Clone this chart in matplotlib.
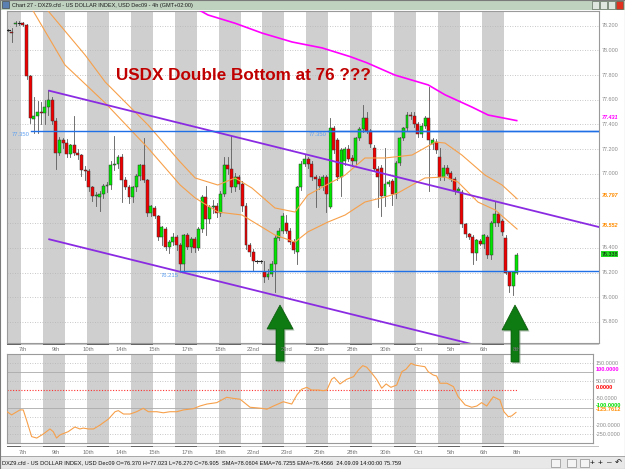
import numpy as np
import matplotlib
matplotlib.use("Agg")
import matplotlib.pyplot as plt
from matplotlib.patches import Rectangle, Polygon

# ---- 4h candles, bar index 0..139
opens = [78.165, 78.150, 78.210, 78.220, 78.220, 78.205, 77.790, 77.445, 77.470, 77.500,
         77.490, 77.540, 77.600, 77.430, 77.170, 77.270, 77.250, 77.160, 77.230, 77.170,
         77.150, 77.030, 77.020, 76.890, 76.820, 76.815, 76.840, 76.900, 76.910, 77.070,
         77.080, 77.140, 76.950, 76.890, 76.810, 76.890, 76.980, 77.070, 76.950, 76.680,
         76.720, 76.660, 76.490, 76.555, 76.410, 76.450, 76.490, 76.420, 76.270, 76.500,
         76.410, 76.470, 76.400, 76.550, 76.810, 76.630, 76.730, 76.740, 76.680, 76.840,
         77.070, 77.040, 76.890, 76.970, 76.920, 76.740, 76.420, 76.370, 76.290, 76.290,
         76.205, 76.165, 76.190, 76.270, 76.480, 76.540, 76.600, 76.540, 76.450, 76.370,
         76.890, 77.080, 77.120, 77.080, 76.970, 76.960, 76.900, 76.970, 76.730, 77.370,
         77.270, 76.970, 77.100, 77.200, 77.130, 77.100, 77.290, 77.360, 77.450, 77.345,
         77.210, 77.040, 77.050, 76.820, 76.920, 76.940, 76.840, 77.090, 77.290, 77.370,
         77.480, 77.470, 77.400, 77.325, 77.390, 77.450, 77.240, 77.260, 77.140, 76.970,
         77.050, 77.010, 76.955, 76.860, 76.850, 76.590, 76.510, 76.490, 76.360, 76.455,
         76.430, 76.490, 76.340, 76.600, 76.675, 76.620, 76.480, 76.200, 76.090, 76.200]
highs = [78.170, 78.180, 78.235, 78.235, 78.230, 78.215, 77.800, 77.620, 77.590, 77.580,
         77.600, 77.680, 77.620, 77.450, 77.300, 77.290, 77.280, 77.240, 77.470, 77.200,
         77.160, 77.060, 77.040, 76.900, 76.850, 76.860, 76.920, 76.930, 77.100, 77.310,
         77.150, 77.160, 76.970, 76.910, 76.900, 77.000, 77.080, 77.290, 76.960, 76.750,
         76.740, 76.670, 76.580, 76.570, 76.460, 76.520, 76.500, 76.440, 76.510, 76.520,
         76.490, 76.490, 76.570, 76.830, 76.900, 76.750, 76.790, 76.760, 76.860, 77.140,
         77.140, 77.310, 77.010, 76.990, 76.940, 76.760, 76.440, 76.390, 76.300, 76.300,
         76.290, 76.230, 76.290, 76.500, 76.560, 76.680, 76.670, 76.560, 76.470, 76.900,
         77.100, 77.160, 77.140, 77.100, 76.990, 76.980, 76.990, 76.990, 77.450, 77.390,
         77.290, 77.210, 77.220, 77.230, 77.150, 77.300, 77.380, 77.560, 77.500, 77.360,
         77.230, 77.060, 77.070, 77.210, 76.950, 76.960, 77.100, 77.300, 77.380, 77.500,
         77.500, 77.500, 77.420, 77.410, 77.470, 77.700, 77.290, 77.280, 77.210, 77.070,
         77.070, 77.020, 76.970, 76.890, 76.870, 76.600, 76.520, 76.500, 76.470, 76.470,
         76.510, 76.500, 76.620, 76.780, 76.690, 76.630, 76.500, 76.210, 76.210, 76.360]
lows = [78.160, 78.070, 78.195, 78.205, 78.195, 77.770, 77.410, 77.330, 77.330, 77.400,
        77.400, 77.480, 77.400, 77.040, 77.150, 77.210, 77.140, 77.140, 77.150, 77.120,
        76.980, 76.950, 76.860, 76.780, 76.740, 76.700, 76.800, 76.850, 76.880, 77.030,
        77.050, 76.770, 76.880, 76.760, 76.770, 76.860, 76.950, 76.930, 76.660, 76.660,
        76.640, 76.460, 76.420, 76.380, 76.360, 76.420, 76.380, 76.220, 76.210, 76.390,
        76.370, 76.370, 76.380, 76.530, 76.500, 76.600, 76.680, 76.650, 76.660, 76.820,
        77.000, 76.850, 76.860, 76.880, 76.700, 76.390, 76.330, 76.220, 76.280, 76.280,
        76.120, 76.150, 76.170, 76.045, 76.460, 76.520, 76.520, 76.430, 76.360, 76.270,
        76.870, 77.060, 77.050, 76.950, 76.730, 76.880, 76.870, 76.690, 76.720, 77.170,
        76.950, 76.820, 77.070, 77.100, 77.060, 77.080, 77.270, 77.340, 77.330, 77.220,
        77.020, 76.730, 76.660, 76.740, 76.900, 76.750, 76.800, 77.070, 77.270, 77.350,
        77.440, 77.380, 77.300, 77.300, 77.370, 76.860, 77.200, 77.170, 76.950, 76.950,
        76.990, 76.940, 76.840, 76.850, 76.570, 76.490, 76.470, 76.270, 76.300, 76.420,
        76.400, 76.320, 76.310, 76.580, 76.580, 76.500, 76.190, 76.040, 76.020, 76.190]
closes = [78.165, 78.140, 78.220, 78.220, 78.205, 77.790, 77.450, 77.470, 77.500, 77.490,
          77.540, 77.600, 77.430, 77.170, 77.270, 77.250, 77.160, 77.230, 77.170, 77.150,
          77.030, 77.020, 76.890, 76.820, 76.830, 76.840, 76.900, 76.910, 77.070, 77.080,
          77.140, 76.950, 76.890, 76.810, 76.890, 76.980, 77.070, 76.950, 76.680, 76.740,
          76.660, 76.490, 76.570, 76.410, 76.450, 76.490, 76.420, 76.270, 76.500, 76.410,
          76.470, 76.400, 76.550, 76.810, 76.630, 76.730, 76.740, 76.680, 76.840, 77.070,
          77.040, 76.890, 76.970, 76.920, 76.740, 76.420, 76.370, 76.290, 76.290, 76.295,
          76.165, 76.190, 76.270, 76.480, 76.540, 76.660, 76.540, 76.450, 76.380, 76.890,
          77.080, 77.120, 77.080, 76.970, 76.960, 76.900, 76.970, 76.840, 77.370, 77.190,
          76.970, 77.190, 77.200, 77.120, 77.100, 77.290, 77.360, 77.450, 77.345, 77.240,
          77.040, 76.970, 76.820, 76.920, 76.930, 76.840, 77.090, 77.290, 77.370, 77.480,
          77.465, 77.400, 77.325, 77.390, 77.450, 77.270, 77.270, 77.190, 76.970, 77.050,
          77.000, 76.955, 76.860, 76.875, 76.590, 76.510, 76.490, 76.360, 76.460, 76.435,
          76.500, 76.340, 76.600, 76.675, 76.600, 76.530, 76.200, 76.090, 76.200, 76.338]

# ---- indicator lines (bar index, value)
sma_bar = [52.0, 54.6, 62.0, 69.4, 77.6, 85.8, 93.4, 98.0, 105.7, 114.8, 119.4, 126.8, 131.2, 139.0]
sma_val = [78.33, 78.287, 78.22, 78.14, 78.068, 78.02, 77.95, 77.90, 77.80, 77.72, 77.64, 77.54, 77.476, 77.431]

ema1_bar = [10.9, 21.0, 26.5, 38.2, 47.0, 51.1, 57.3, 62.0, 66.6, 72.9, 78.4, 81.9, 88.5, 92.1,
            97.5, 103.0, 110.4, 116.7, 119.4, 124.0, 130.3, 135.0, 139.1]
ema1_val = [78.32, 77.963, 77.744, 77.396, 77.096, 76.966, 76.909, 76.966, 76.885, 76.723, 76.690,
            76.828, 76.934, 76.990, 77.128, 77.128, 77.152, 77.257, 77.249, 77.152, 76.990, 76.909, 76.797]
ema2_bar = [6.8, 15.5, 26.5, 38.2, 47.0, 51.1, 57.3, 63.9, 72.9, 78.4, 81.9, 87.4, 92.1, 97.5,
            103.0, 106.5, 110.4, 113.9, 119.4, 122.9, 128.4, 133.1, 139.1]
ema2_val = [78.32, 77.882, 77.574, 77.209, 76.909, 76.804, 76.690, 76.666, 76.504, 76.447, 76.529,
            76.609, 76.666, 76.771, 76.812, 76.844, 76.909, 76.966, 76.974, 76.934, 76.771, 76.707, 76.552]

cci_bar = [-0.3, 0.9, 3.2, 4.1, 5.0, 6.4, 7.8, 9.6, 11.4, 12.3, 13.2, 14.1, 16.4, 18.2, 19.6, 20.5,
           21.9, 23.3, 25.1, 27.4, 29.2, 30.1, 31.5, 33.3, 35.1, 36.9, 38.3, 40.6, 42.4, 44.2, 46.1,
           47.9, 50.6, 52.4, 54.3, 57.0, 59.7, 61.5, 63.4, 66.1, 69.3, 70.7, 72.5, 75.2, 77.5, 78.9,
           80.2, 81.6, 82.9, 84.8, 86.1, 87.1, 88.4, 89.1, 90.7, 92.5, 94.4, 95.7, 96.9, 98.0, 99.4,
           100.7, 102.1, 103.3, 104.6, 106.2, 107.6, 108.7, 110.1, 111.2, 112.6, 113.9, 114.8, 116.2,
           117.1, 118.0, 119.9, 121.7, 123.0, 124.9, 126.7, 128.1, 129.4, 130.8, 132.6, 134.4, 135.5,
           136.7, 137.6, 138.8]
cci_val = [-122, -140, -112, -112, -169, -262, -270, -247, -219, -234, -270, -253, -234, -208, -219,
           -214, -219, -219, -197, -163, -122, -116, -135, -135, -122, -103, -122, -122, -128, -122,
           -122, -112, -105, -90, -79, -71, -41, -47, -52, -97, -103, -108, -90, -66, -79, -28, 4, 15,
           0, 0, -4, 0, 60, 71, 34, 60, 75, 112, 137, 128, 94, 60, 10, 34, 15, 28, 103, 116, 150, 140,
           135, 131, 103, 84, 79, 38, 38, 19, -38, -84, -97, -90, -71, -90, -38, -56, -122, -150, -146,
           -126]
cci_last = -125.7612

# ---- trend lines / levels
channel_start = 11.2
channel_top0 = 77.673
channel_bot0 = 76.469
channel_slope = -0.00735
levels = [(77.350, 6.2, '77.350'), (77.350, 87.4, '77.350'), (76.215, 47.0, '76.215')]

date_pos = [4, 13, 22, 31, 40, 49, 58, 67, 76, 85, 94, 103, 112, 121, 130, 139]
date_txt = ['7th', '9th', '10th', '14th', '15th', '17th', '18th', '22nd', '23rd',
            '25th', '28th', '30th', 'Oct', '5th', '6th', '8th']

W, H = 625, 469
BAR0, STEP = 8.25, 3.658
PR0, PPX, PY0 = 78.2, 123.4, 25.7

def fx(px):
    return px / W

def fy(py):
    return 1 - py / H

def bar_at(px):
    return (px - BAR0) / STEP

def price_at(py):
    return PR0 - (py - PY0) / PPX

def cci_at(py):
    return (390 - py) * 5.62

plt.rcParams['font.family'] = ['Liberation Sans', 'DejaVu Sans']
fig = plt.figure(figsize=(W / 100, H / 100), dpi=100)
fig.patch.set_facecolor('white')

GRAY = '#cfcfcf'
n = len(closes)

def bands(ax):
    ax.axvspan(-3, 3.5, color=GRAY, lw=0, zorder=0)
    k = 9.5
    while k < n - 3:
        ax.axvspan(k, k + 6, color=GRAY, lw=0, zorder=0)
        k += 12

def frame(ax):
    for s in ax.spines.values():
        s.set_color('#9a9a9a')
        s.set_linewidth(0.8)
    ax.set_xticks([])
    ax.set_yticks([])

# ---------------- main price panel
ax = fig.add_axes([fx(7), fy(343), (599 - 7) / W, (343 - 11) / H])
ax.set_xlim(bar_at(7), bar_at(599))
ax.set_ylim(price_at(343), price_at(11))
frame(ax)
bands(ax)
for p in np.arange(75.8, 78.21, 0.2):
    ax.axhline(p, color='#b5b5b5', lw=0.6, ls=(0, (1, 2)), zorder=1)

for i in range(n):
    o, h, l, c = opens[i], highs[i], lows[i], closes[i]
    ax.plot([i, i], [l, h], color='#5a5a5a', lw=0.6, zorder=3)
    if abs(c - o) < 0.006:
        ax.plot([i - 0.45, i + 0.45], [c, c], color='#222222', lw=0.8, zorder=4)
    else:
        fc = '#00e600' if c > o else '#ee0000'
        ax.add_patch(Rectangle((i - 0.4, min(o, c)), 0.8, abs(c - o), facecolor=fc,
                               edgecolor='#333333', lw=0.35, zorder=4))

ax.plot(sma_bar, sma_val, color='#ff00ff', lw=1.2, zorder=5)
ax.plot(ema1_bar, ema1_val, color='#f7a04a', lw=0.8, zorder=5)
ax.plot(ema2_bar, ema2_val, color='#f7a04a', lw=0.8, zorder=5)

x_end = bar_at(599)
ax.plot([channel_start, x_end], [channel_top0, channel_top0 + channel_slope * (x_end - channel_start)],
        color='#8a2be2', lw=1.3, zorder=6)
ax.plot([channel_start, x_end], [channel_bot0, channel_bot0 + channel_slope * (x_end - channel_start)],
        color='#8a2be2', lw=1.3, zorder=6)
for lvl, start, txt in levels:
    ax.plot([start, x_end], [lvl, lvl], color='#1f6fe6', lw=1.0, zorder=6)
    ax.text(start - 0.3, lvl - 0.015, txt, color='#5fa0f0', fontsize=4.2, ha='right', va='top', zorder=7)

ax.text(bar_at(116), price_at(75), 'USDX Double Bottom at 76 ???', color='#c00000', fontsize=12.3,
        fontweight='bold', va='center', ha='left', zorder=8)

tr = ax.get_yaxis_transform()
for p in np.arange(75.8, 78.21, 0.2):
    if abs(p - 76.6) < 0.01 or abs(p - 76.8) < 0.01:
        continue
    ax.text(1.004, p, '%.3f' % p, transform=tr, fontsize=3.9, color='#8a8a8a', va='center', ha='left')
for p, col in [(77.431, '#ff00ff'), (76.797, '#ff8c00'), (76.552, '#ff8c00')]:
    ax.text(1.004, p + 0.025, '%.3f' % p, transform=tr, fontsize=4.0, color=col, va='center', ha='left',
            fontweight='bold', style='italic')
ax.text(1.004, closes[-1] + 0.01, '%.3f' % closes[-1], transform=tr, fontsize=3.9, color='#111111',
        va='center', ha='left', bbox=dict(facecolor='#22dd22', edgecolor='none', pad=0.4))

# ---------------- CCI panel
ax2 = fig.add_axes([fx(7), fy(443), (593 - 7) / W, (443 - 354) / H])
ax2.set_xlim(bar_at(7), bar_at(593))
ax2.set_ylim(cci_at(443), cci_at(354))
frame(ax2)
bands(ax2)
for v in [200, 150, 50, -50, -150, -200, -250]:
    ax2.axhline(v, color='#b5b5b5', lw=0.6, ls=(0, (1, 2)), zorder=1)
for v in [100, -100]:
    ax2.axhline(v, color='#aaaaaa', lw=0.6, zorder=1)
ax2.plot([bar_at(7), n - 1], [0, 0], color='#ff3030', lw=0.8, ls=(0, (1, 1.5)), zorder=2)
ax2.plot(cci_bar, cci_val, color='#f7a04a', lw=0.8, zorder=3)
tr2 = ax2.get_yaxis_transform()
for v in [150, 50, -50, -200, -250]:
    ax2.text(1.005, v, '%.4f' % v, transform=tr2, fontsize=3.9, color='#8a8a8a', va='center', ha='left')
for v, col in [(100, '#ff00ff'), (0, '#ff0000'), (-100, '#00dd00'), (cci_last, '#ff8c00')]:
    ax2.text(1.005, v + 14, '%.4f' % v, transform=tr2, fontsize=4.1, color=col, va='center', ha='left',
             fontweight='bold')

# ---------------- date strips
def date_strip(py_line, py_text):
    for i, t in zip(date_pos, date_txt):
        fig.text(fx(BAR0 + STEP * i), fy(py_text), t, fontsize=4.2, color='#777777', ha='center', va='center')
    fig.add_artist(Rectangle((fx(7), fy(py_line + 1)), (599 - 7) / W, 1.5 / H, transform=fig.transFigure,
                             facecolor='#c4c4c4', edgecolor='none'))
    k = 9.5
    while k < n - 3:
        fig.add_artist(Rectangle((fx(BAR0 + STEP * k), fy(py_line + 1)), STEP * 6 / W, 1.5 / H,
                                 transform=fig.transFigure, facecolor='#666666', edgecolor='none'))
        k += 12
    fig.add_artist(Rectangle((fx(7), fy(py_line + 1)), (BAR0 + STEP * 3.5 - 7) / W, 1.5 / H,
                             transform=fig.transFigure, facecolor='#666666', edgecolor='none'))

date_strip(344, 349.5)
date_strip(446, 452)

# ---------------- arrows
def up_arrow(cx, tip, base, bottom):
    pts = [(cx, tip), (cx + 13, base), (cx + 4, base), (cx + 4, bottom), (cx - 4, bottom),
           (cx - 4, base), (cx - 13, base)]
    shadow = [(fx(x + 1.5), fy(y + 1.5)) for x, y in pts]
    fig.add_artist(Polygon(shadow, closed=True, transform=fig.transFigure, facecolor='#6f8f6f',
                           edgecolor='none', alpha=0.6))
    fig.add_artist(Polygon([(fx(x), fy(y)) for x, y in pts], closed=True, transform=fig.transFigure,
                           facecolor='#0d7a12', edgecolor='#0a5a0a', lw=0.5))

up_arrow(280, 305, 329, 361)
up_arrow(515, 305, 330, 362)

# ---------------- window chrome
fig.add_artist(Rectangle((0, fy(10)), 1, 10 / H, transform=fig.transFigure, facecolor='#bfd1bf',
                         edgecolor='none'))
fig.add_artist(Rectangle((fx(2), fy(8.5)), 7 / W, 7 / H, transform=fig.transFigure, facecolor='#5a7fb0',
                         edgecolor='#333333', lw=0.4))
fig.text(fx(12), fy(5), 'Chart 27 - DXZ9.cfd - US DOLLAR INDEX, USD Dec09 - 4h (GMT+02:00)', fontsize=3.95,
         color='#1a1a1a', va='center', ha='left')
for bx, col in [(592, '#dfe6df'), (600, '#dfe6df'), (608, '#dfe6df'), (616, '#e03020')]:
    fig.add_artist(Rectangle((fx(bx), fy(9)), 7 / W, 7.5 / H, transform=fig.transFigure, facecolor=col,
                             edgecolor='#445544', lw=0.4))

fig.add_artist(Rectangle((0, 0), 1, (H - 456) / H, transform=fig.transFigure, facecolor='#e8e8e8',
                         edgecolor='#888888', lw=0.5))
fig.text(fx(2), fy(462.5), 'DXZ9.cfd - US DOLLAR INDEX, USD Dec09 O=76.370 H=77.023 L=76.270 C=76.905  '
         'SMA=78.0604 EMA=76.7255 EMA=76.4566  24.09.09 14:00:00 75.759', fontsize=4.1, color='#111111',
         va='center', ha='left')
for bx in [551, 567, 580]:
    fig.add_artist(Rectangle((fx(bx), fy(467)), 9 / W, 8 / H, transform=fig.transFigure,
                             facecolor='#f4f4f4', edgecolor='#777777', lw=0.4))
for bx, s in [(592, '+'), (600, '+'), (609, '\u2013'), (618, '\u21b6')]:
    fig.text(fx(bx), fy(463), s, fontsize=6, color='#111111', ha='center', va='center')
fig.add_artist(Rectangle((0, 0), 1, 1, transform=fig.transFigure, facecolor='none', edgecolor='#7a7a7a',
                         lw=0.8))

fig.savefig('out.png', dpi=100)
